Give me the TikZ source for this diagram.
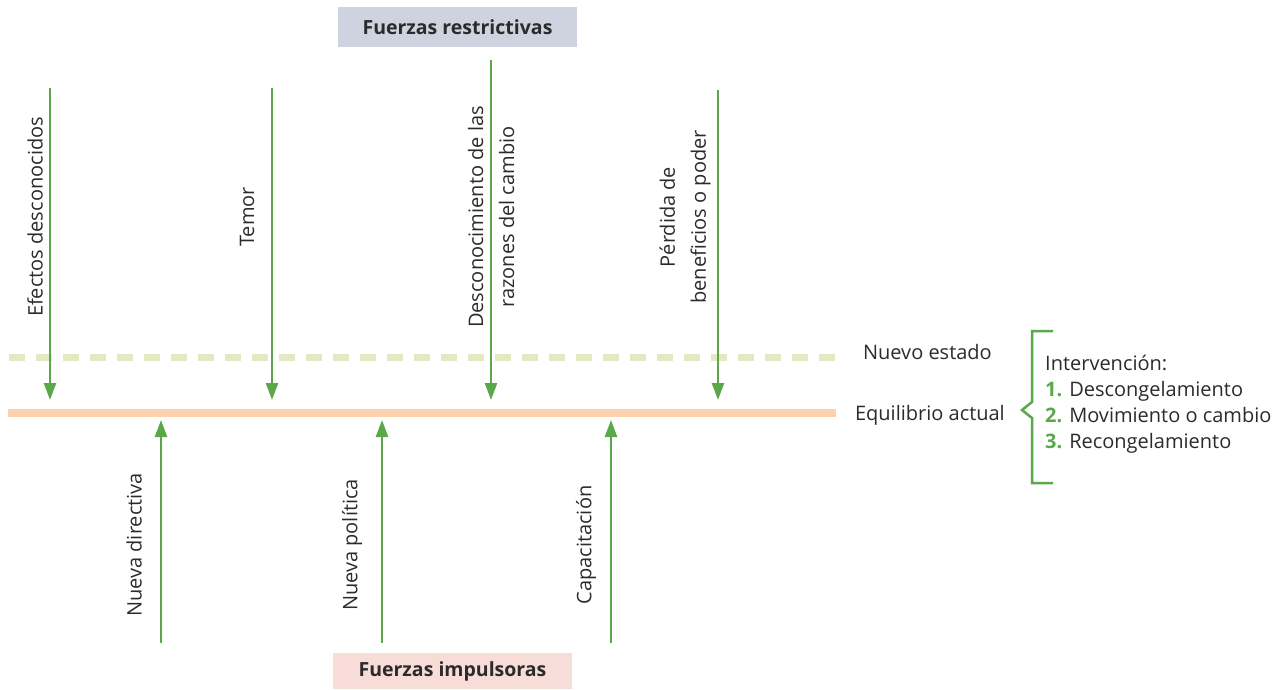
\documentclass[tikz,border=0pt]{standalone}
\usepackage{fontspec}
\setmainfont{Open Sans}
\usetikzlibrary{arrows.meta}
\definecolor{fgreen}{HTML}{5BA84A}
\definecolor{txt}{HTML}{2B2B2B}
\definecolor{dashc}{HTML}{E3E9C3}
\definecolor{orangec}{HTML}{FDD0B0}
\definecolor{boxblue}{HTML}{CFD3E0}
\definecolor{boxpink}{HTML}{F8DCD8}
\tikzset{
  force/.style={draw=fgreen, line width=2.5pt, -{Triangle[width=12pt,length=17pt]}},
  vlabel/.style={rotate=90, align=center, text=txt, inner sep=0pt, font=\fontsize{20}{31}\selectfont},
  hlabel/.style={text=txt, inner sep=0pt, font=\fontsize{20}{26}\selectfont},
  titlebox/.style={text=txt, inner sep=0pt, font=\fontsize{19.5}{20}\selectfont\bfseries}
}
\begin{document}
\begin{tikzpicture}[x=1pt,y=-1pt]
\useasboundingbox (0,0) rectangle (1278,689);
% title boxes
\fill[boxblue] (338,7) rectangle (577,47);
\node[titlebox] (tr) at (457.5,27) {Fuerzas restrictivas};
\fill[boxpink] (333,653) rectangle (572,689);
\node[titlebox] (ti) at (452.5,671) {Fuerzas impulsoras};
% lines
\draw[dashc, line width=7pt, dash pattern=on 16pt off 11pt] (9,357) -- (836,357);
\draw[orangec, line width=8pt] (8,413) -- (836,413);
% restrictive forces
\coordinate (a1s) at (50,88);  \coordinate (a1e) at (50,400);
\coordinate (a2s) at (272,88); \coordinate (a2e) at (272,400);
\coordinate (a3s) at (491,60); \coordinate (a3e) at (491,400);
\coordinate (a4s) at (718,90); \coordinate (a4e) at (718,400);
\draw[force] (a1s) -- (a1e);
\draw[force] (a2s) -- (a2e);
\draw[force] (a3s) -- (a3e);
\draw[force] (a4s) -- (a4e);
\node[vlabel] (l1) at (35,217) {Efectos desconocidos};
\node[vlabel] (l2) at (247,217) {Temor};
\node[vlabel] (l3) at (491,217) {Desconocimiento de las\\razones del cambio};
\node[vlabel] (l4) at (685,217) {Pérdida de\\beneficios o poder};
% driving forces
\coordinate (b1s) at (161,643); \coordinate (b1e) at (161,420);
\coordinate (b2s) at (382,643); \coordinate (b2e) at (382,420);
\coordinate (b3s) at (611,643); \coordinate (b3e) at (611,420);
\draw[force] (b1s) -- (b1e);
\draw[force] (b2s) -- (b2e);
\draw[force] (b3s) -- (b3e);
\node[vlabel] (m1) at (134,545) {Nueva directiva};
\node[vlabel] (m2) at (352,545) {Nueva política};
\node[vlabel] (m3) at (586,545) {Capacitación};
% right side
\node[hlabel, anchor=east] (ne) at (992,352) {Nuevo estado};
\node[hlabel, anchor=east] (ea) at (1005,415) {Equilibrio actual};
\draw[fgreen, line width=2.5pt] (1053,331) -- (1032,331) -- (1032,402) -- (1022,410) -- (1032,418) -- (1032,483) -- (1053,483);
\node[hlabel, anchor=west, align=left] (iv) at (1045,404) {Intervención:\\
{\color{fgreen}\bfseries 1.} Descongelamiento\\
{\color{fgreen}\bfseries 2.} Movimiento o cambio\\
{\color{fgreen}\bfseries 3.} Recongelamiento};
\end{tikzpicture}
\end{document}
